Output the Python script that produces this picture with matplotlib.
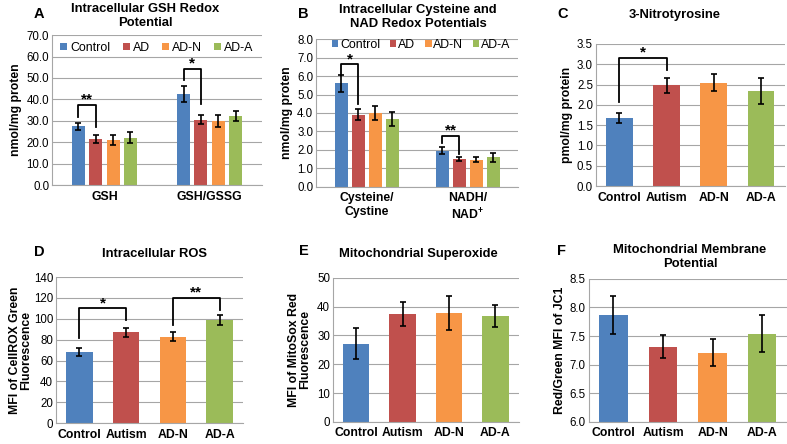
import numpy as np
import matplotlib
matplotlib.use('Agg')
import matplotlib.pyplot as plt

plt.rcParams['font.family'] = ['Liberation Sans', 'DejaVu Sans']
plt.rcParams['mathtext.fontset'] = 'custom'
plt.rcParams['mathtext.rm'] = 'Liberation Sans'
plt.rcParams['mathtext.bf'] = 'Liberation Sans:bold'

colors = ['#4F81BD', '#C0504D', '#F79646', '#9BBB59']
groups4 = ['Control', 'AD', 'AD-N', 'AD-A']
cats4 = ['Control', 'Autism', 'AD-N', 'AD-A']

# A: GSH redox
a_cats = ['GSH', 'GSH/GSSG']
a_vals = [[27.4, 42.5], [21.4, 30.5], [21.0, 29.9], [22.2, 32.2]]
a_err = [[1.7, 3.9], [1.8, 2.1], [2.3, 2.7], [2.6, 2.5]]

# B: cysteine / NAD redox
b_cats = ['Cysteine/\nCystine', 'NADH/\nNAD$^{\\mathbf{+}}$']
b_vals = [[5.6, 1.97], [3.9, 1.52], [4.0, 1.48], [3.65, 1.6]]
b_err = [[0.45, 0.17], [0.3, 0.1], [0.4, 0.12], [0.38, 0.25]]

# C: 3-nitrotyrosine
c_vals = [1.68, 2.48, 2.55, 2.35]
c_err = [0.13, 0.18, 0.22, 0.32]

# D: ROS
d_vals = [68, 87, 83, 99]
d_err = [4, 4, 4.5, 5]

# E: superoxide
e_vals = [27.2, 37.5, 37.8, 36.7]
e_err = [5.5, 4.2, 5.8, 3.8]

# F: membrane potential
f_vals = [7.87, 7.31, 7.21, 7.54]
f_err = [0.33, 0.2, 0.24, 0.32]

fig = plt.figure(figsize=(7.87, 4.44), dpi=100)

grid_c = '#A6A6A6'
tick_fs = 8.3
bold_fs = 8.8


def style(ax, ymin, ymax, step, fmt):
    ax.set_ylim(ymin, ymax)
    ticks = np.arange(ymin, ymax + step / 2, step)
    ax.set_yticks(ticks)
    ax.set_yticklabels([fmt % t for t in ticks], fontsize=tick_fs)
    ax.yaxis.grid(True, color=grid_c, linewidth=0.8)
    ax.set_axisbelow(True)
    for s in ['top', 'right']:
        ax.spines[s].set_visible(False)
    ax.spines['left'].set_color(grid_c)
    ax.spines['bottom'].set_color(grid_c)
    ax.tick_params(axis='y', length=0, pad=2)
    ax.tick_params(axis='x', length=0, pad=4)


def bracket(ax, x1, x2, y, yl, yr, label, dy):
    ax.plot([x1, x1, x2, x2], [yl, y, y, yr], color='black', lw=1.3, clip_on=False)
    ax.text((x1 + x2) / 2, y + dy, label, ha='center', va='center', fontsize=11, fontweight='bold')


def grouped(ax, vals, errs, cats, wbar, step):
    x = np.arange(len(cats))
    for i in range(4):
        ax.bar(x + (i - 1.5) * step, vals[i], wbar, color=colors[i], label=groups4[i],
               yerr=errs[i], capsize=2.2, error_kw=dict(elinewidth=1.2, capthick=1.2))
    ax.set_xlim(-0.5, len(cats) - 0.5)
    ax.set_xticks(x)
    ax.set_xticklabels(cats, fontsize=bold_fs, fontweight='bold')
    return x


def simple(ax, vals, errs):
    x = np.arange(4)
    ax.bar(x, vals, 0.57, color=colors, yerr=errs, capsize=2.2,
           error_kw=dict(elinewidth=1.2, capthick=1.2))
    ax.set_xlim(-0.5, 3.5)
    ax.set_xticks(x)
    ax.set_xticklabels(cats4, fontsize=bold_fs, fontweight='bold')


# Panel A
axA = fig.add_axes([0.066, 0.583, 0.267, 0.338])
style(axA, 0, 70, 10, '%.1f')
x = grouped(axA, a_vals, a_err, a_cats, 0.125, 0.165)
axA.set_ylabel('nmol/mg proten', fontsize=bold_fs, fontweight='bold', labelpad=3)
axA.legend(loc='upper center', bbox_to_anchor=(0.5, 1.03), ncol=4, frameon=False, fontsize=8.9,
           handlelength=0.55, handleheight=0.55, handletextpad=0.25, columnspacing=1.0)
bracket(axA, x[0] - 1.5 * 0.165, x[0] - 0.5 * 0.165, 37.3, 31.9, 27.2, '**', 2.8)
bracket(axA, x[1] - 1.5 * 0.165, x[1] - 0.5 * 0.165, 54.4, 49.0, 37.8, '*', 2.5)

# Panel B
axB = fig.add_axes([0.4015, 0.579, 0.257, 0.333])
style(axB, 0, 8, 1, '%.1f')
x = grouped(axB, b_vals, b_err, b_cats, 0.129, 0.168)
axB.set_ylabel('nmol/mg proten', fontsize=bold_fs, fontweight='bold', labelpad=3)
axB.legend(loc='upper center', bbox_to_anchor=(0.52, 1.075), ncol=4, frameon=False, fontsize=8.9,
           handlelength=0.55, handleheight=0.55, handletextpad=0.15, columnspacing=0.75)
bracket(axB, x[0] - 1.5 * 0.168, x[0] - 0.5 * 0.168, 6.65, 6.05, 4.5, '*', 0.22)
bracket(axB, x[1] - 1.5 * 0.168, x[1] - 0.5 * 0.168, 2.75, 2.4, 1.8, '**', 0.3)

# Panel C
axC = fig.add_axes([0.757, 0.581, 0.240, 0.320])
style(axC, 0, 3.5, 0.5, '%.1f')
simple(axC, c_vals, c_err)
axC.set_ylabel('pmol/mg protein', fontsize=bold_fs, fontweight='bold', labelpad=3)
bracket(axC, 0, 1, 3.15, 2.08, 2.86, '*', 0.15)

# Panel D
axD = fig.add_axes([0.071, 0.047, 0.238, 0.329])
style(axD, 0, 140, 20, '%d')
simple(axD, d_vals, d_err)
axD.set_ylabel('MFI of CellROX Green\nFluorescence', fontsize=bold_fs, fontweight='bold',
               labelpad=1, linespacing=0.95)
bracket(axD, 0, 1, 110, 82, 99, '*', 5)
bracket(axD, 2, 3, 120, 94, 108, '**', 5)

# Panel E
axE = fig.add_axes([0.423, 0.050, 0.236, 0.324])
style(axE, 0, 50, 10, '%d')
simple(axE, e_vals, e_err)
axE.set_ylabel('MFI of MitoSox Red\nFluorescence', fontsize=bold_fs, fontweight='bold',
               labelpad=4, linespacing=0.95)

# Panel F
axF = fig.add_axes([0.748, 0.050, 0.252, 0.322])
style(axF, 6.0, 8.5, 0.5, '%.1f')
simple(axF, f_vals, f_err)
axF.set_ylabel('Red/Green MFI of JC1', fontsize=bold_fs, fontweight='bold', labelpad=3)

# titles and panel letters
title_kw = dict(ha='center', va='center', fontsize=9.4, fontweight='bold', linespacing=1.2)
letter_kw = dict(ha='center', va='center', fontsize=10.5, fontweight='bold')
fig.text(145 / 787, 1 - 16 / 444, 'Intracellular GSH Redox\nPotential', **title_kw)
fig.text(418 / 787, 1 - 17 / 444, 'Intracellular Cysteine and\nNAD Redox Potentials', **title_kw)
fig.text(675 / 787, 1 - 15 / 444, '3-Nitrotyrosine', **title_kw)
fig.text(155 / 787, 1 - 254 / 444, 'Intracellular ROS', **title_kw)
fig.text(418 / 787, 1 - 254 / 444, 'Mitochondrial Superoxide', **title_kw)
fig.text(690 / 787, 1 - 257 / 444, 'Mitochondrial Membrane\nPotential', **title_kw)
fig.text(39 / 787, 1 - 14 / 444, 'A', **letter_kw)
fig.text(303 / 787, 1 - 14 / 444, 'B', **letter_kw)
fig.text(563 / 787, 1 - 14 / 444, 'C', **letter_kw)
fig.text(39 / 787, 1 - 252 / 444, 'D', **letter_kw)
fig.text(304 / 787, 1 - 251 / 444, 'E', **letter_kw)
fig.text(561 / 787, 1 - 251 / 444, 'F', **letter_kw)

fig.savefig('out.png', dpi=100)
